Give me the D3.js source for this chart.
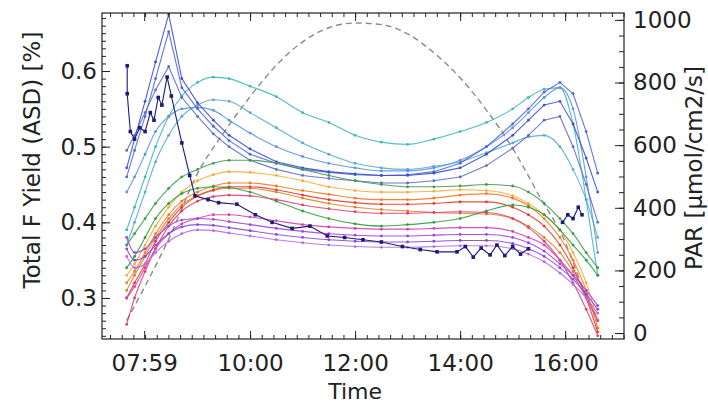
<!DOCTYPE html>
<html>
<head>
<meta charset="utf-8">
<script src="https://cdn.jsdelivr.net/npm/d3@7"></script>
<style>
  body { margin: 0; background: #fff; }
  text { font-family: "DejaVu Sans", sans-serif; }
</style>
</head>
<body>
<svg id="chart" width="708" height="404"></svg>
<script>
// Time of day (decimal hours) shared by most series
const hours = [7.65, 7.8, 8.0, 8.2, 8.45, 8.7, 9.0, 9.3, 9.6, 10.0, 10.5, 11.0, 11.5, 12.0, 12.5, 13.0, 13.5, 14.0, 14.5, 15.0, 15.3, 15.6, 15.9, 16.15, 16.4, 16.62];

// Upper group (blue / teal)
const blueA = [0.472, 0.51, 0.56, 0.612, 0.675, 0.59, 0.558, 0.535, 0.515, 0.497, 0.48, 0.472, 0.467, 0.464, 0.462, 0.462, 0.465, 0.472, 0.49, 0.515, 0.535, 0.555, 0.56, 0.53, 0.485, 0.44];
const blueB = [0.46, 0.495, 0.54, 0.59, 0.652, 0.578, 0.55, 0.527, 0.508, 0.49, 0.478, 0.47, 0.466, 0.463, 0.462, 0.463, 0.467, 0.478, 0.5, 0.53, 0.55, 0.572, 0.585, 0.57, 0.52, 0.465];
const blueC = [0.495, 0.515, 0.545, 0.575, 0.606, 0.565, 0.54, 0.517, 0.5, 0.482, 0.47, 0.462, 0.458, 0.455, 0.452, 0.452, 0.455, 0.46, 0.475, 0.498, 0.515, 0.535, 0.54, 0.5, 0.45, 0.4];
const lightBlue = [0.44, 0.46, 0.49, 0.52, 0.54, 0.55, 0.552, 0.548, 0.535, 0.518, 0.5, 0.487, 0.478, 0.472, 0.468, 0.468, 0.472, 0.482, 0.5, 0.525, 0.545, 0.565, 0.578, 0.55, 0.46, 0.36];
const teal1 = [0.39, 0.42, 0.46, 0.5, 0.54, 0.567, 0.585, 0.592, 0.59, 0.58, 0.566, 0.545, 0.532, 0.515, 0.506, 0.503, 0.51, 0.52, 0.532, 0.55, 0.565, 0.576, 0.578, 0.53, 0.43, 0.33];
const teal2 = [0.37, 0.4, 0.44, 0.48, 0.515, 0.54, 0.555, 0.562, 0.56, 0.545, 0.525, 0.505, 0.49, 0.478, 0.472, 0.47, 0.474, 0.48, 0.492, 0.505, 0.513, 0.515, 0.5, 0.47, 0.43, 0.38];

// Lower group (green / orange / red / purple)
const greenU = [0.37, 0.385, 0.405, 0.425, 0.445, 0.46, 0.47, 0.478, 0.482, 0.482, 0.478, 0.47, 0.462, 0.455, 0.45, 0.447, 0.447, 0.448, 0.45, 0.448, 0.44, 0.425, 0.405, 0.385, 0.36, 0.34];
const greenL = [0.34, 0.355, 0.38, 0.405, 0.425, 0.438, 0.445, 0.447, 0.446, 0.44, 0.428, 0.415, 0.405, 0.398, 0.395, 0.397, 0.4, 0.405, 0.415, 0.423, 0.42, 0.41, 0.39, 0.37, 0.35, 0.33];
const orange1 = [0.33, 0.345, 0.37, 0.395, 0.42, 0.44, 0.455, 0.463, 0.467, 0.466, 0.462, 0.455, 0.447, 0.442, 0.44, 0.44, 0.441, 0.443, 0.442, 0.435, 0.425, 0.41, 0.39, 0.36, 0.32, 0.27];
const orange2 = [0.32, 0.335, 0.36, 0.385, 0.41, 0.428, 0.44, 0.448, 0.452, 0.452, 0.448, 0.442, 0.437, 0.432, 0.43, 0.43, 0.432, 0.436, 0.438, 0.432, 0.422, 0.405, 0.38, 0.35, 0.31, 0.26];
const orange3 = [0.31, 0.33, 0.355, 0.38, 0.405, 0.423, 0.435, 0.442, 0.445, 0.445, 0.44, 0.432, 0.425, 0.42, 0.417, 0.415, 0.413, 0.412, 0.411, 0.405, 0.395, 0.38, 0.36, 0.335, 0.305, 0.27];
const red1 = [0.3, 0.32, 0.345, 0.375, 0.4, 0.42, 0.435, 0.443, 0.447, 0.447, 0.443, 0.436, 0.43, 0.426, 0.424, 0.424, 0.425, 0.427, 0.427, 0.42, 0.41, 0.395, 0.37, 0.34, 0.3, 0.255];
const pinkRed = [0.265, 0.3, 0.335, 0.365, 0.395, 0.415, 0.428, 0.434, 0.436, 0.435, 0.43, 0.423, 0.418, 0.414, 0.412, 0.412, 0.413, 0.414, 0.413, 0.405, 0.393, 0.375, 0.35, 0.32, 0.285, 0.25];
const magenta = [0.3, 0.315, 0.34, 0.365, 0.385, 0.398, 0.405, 0.41, 0.41, 0.407, 0.402, 0.397, 0.394, 0.392, 0.391, 0.391, 0.392, 0.393, 0.393, 0.388, 0.38, 0.37, 0.35, 0.33, 0.3, 0.27];
const purple1 = [0.38, 0.36, 0.365, 0.38, 0.395, 0.403, 0.405, 0.404, 0.401, 0.397, 0.392, 0.388, 0.385, 0.383, 0.382, 0.382, 0.383, 0.384, 0.384, 0.38, 0.373, 0.362, 0.345, 0.33, 0.31, 0.29];
const purple2 = [0.365, 0.35, 0.355, 0.37, 0.385, 0.394, 0.397, 0.396, 0.393, 0.389, 0.384, 0.38, 0.377, 0.375, 0.374, 0.374, 0.375, 0.376, 0.376, 0.372, 0.365, 0.355, 0.34, 0.325, 0.305, 0.285];
const purple3 = [0.355, 0.34, 0.345, 0.36, 0.375, 0.385, 0.39, 0.389, 0.386, 0.382, 0.377, 0.373, 0.37, 0.368, 0.367, 0.367, 0.368, 0.369, 0.369, 0.365, 0.358, 0.348, 0.333, 0.318, 0.3, 0.28];

// Navy series has its own time stamps (null = gap in record)
const navyHours = [7.66, 7.66, 7.72, 7.8, 7.9, 8.0, 8.1, 8.17, 8.25, 8.32, 8.42, 8.5, 8.7, 8.85, 8.95, 9.2, 9.4, 9.75, 10.1, 10.42, 10.8, 11.14, 11.47, 11.8, 12.15, 12.5, 12.9, 13.24, 13.56, 13.94, 14.1, 14.25, 14.4, 14.57, 14.7, 14.85, 15.0, 15.15, 15.3, 15.6, 15.95, 16.05, 16.15, 16.25, 16.32];
const navyYield = [0.607, 0.57, 0.52, 0.51, 0.525, 0.52, 0.545, 0.535, 0.565, 0.555, 0.592, 0.567, 0.505, 0.462, 0.435, 0.43, 0.426, 0.424, 0.41, 0.40, 0.392, 0.395, 0.382, 0.38, 0.377, 0.374, 0.368, 0.364, 0.361, 0.361, 0.368, 0.354, 0.366, 0.357, 0.37, 0.356, 0.368, 0.358, 0.365, null, 0.40, 0.41, 0.405, 0.42, 0.41];

// PAR (right axis)
const parHours = [7.65, 8.0, 8.45, 9.0, 9.5, 10.0, 10.5, 11.0, 11.5, 12.0, 12.5, 13.0, 13.5, 14.0, 14.5, 15.0, 15.5, 16.0, 16.3, 16.62];
const parValues = [40, 150, 300, 510, 640, 755, 855, 930, 975, 990, 985, 955, 895, 815, 712, 590, 440, 290, 160, 40];

// Axis ticks
const xTickHours = [7 + 59 / 60, 10, 12, 14, 16];
const xTickLabels = ["07:59", "10:00", "12:00", "14:00", "16:00"];
const yTicks = [0.3, 0.4, 0.5, 0.6];
const parTicks = [0, 200, 400, 600, 800, 1000];

const series = [
  { values: teal1, color: "#3fb6c2", sharp: false },
  { values: teal2, color: "#55a8d2", sharp: false },
  { values: lightBlue, color: "#5b93de", sharp: false },
  { values: blueC, color: "#5f6cc8", sharp: true },
  { values: blueB, color: "#5066dc", sharp: true },
  { values: blueA, color: "#3c4ed2", sharp: true },
  { values: greenU, color: "#3f9c4c", sharp: false },
  { values: orange1, color: "#f7a938", sharp: false },
  { values: orange2, color: "#f27a20", sharp: false },
  { values: orange3, color: "#d9832c", sharp: false },
  { values: red1, color: "#e8392b", sharp: false },
  { values: greenL, color: "#2ca03a", sharp: false },
  { values: pinkRed, color: "#e0406c", sharp: false },
  { values: magenta, color: "#d43fb4", sharp: false },
  { values: purple1, color: "#a140e0", sharp: false },
  { values: purple2, color: "#8748d8", sharp: false },
  { values: purple3, color: "#b86ae8", sharp: false }
];

const plotLeft = 102, plotRight = 624, plotTop = 13, plotBottom = 339;
const svg = d3.select("#chart");

const x = d3.scaleLinear().domain([7.18, 17.12]).range([plotLeft, plotRight]);
const y = d3.scaleLinear().domain([0.2458, 0.6767]).range([plotBottom, plotTop]);
const yPar = d3.scaleLinear().domain([-19, 1022]).range([plotBottom, plotTop]);

svg.append("clipPath").attr("id", "plot-clip")
  .append("rect").attr("x", plotLeft).attr("y", plotTop)
  .attr("width", plotRight - plotLeft).attr("height", plotBottom - plotTop);

const plot = svg.append("g").attr("clip-path", "url(#plot-clip)");

// PAR dashed curve
const parLine = d3.line()
  .x((d, i) => x(parHours[i]))
  .y(d => yPar(d))
  .curve(d3.curveMonotoneX);

plot.append("path")
  .attr("d", parLine(parValues))
  .attr("fill", "none")
  .attr("stroke", "#8e8a88")
  .attr("stroke-width", 1.4)
  .attr("stroke-dasharray", "6,4");

// Yield series
series.forEach(s => {
  const line = d3.line()
    .x((d, i) => x(hours[i]))
    .y(d => y(d))
    .curve(s.sharp ? d3.curveLinear : d3.curveMonotoneX);

  plot.append("path")
    .attr("d", line(s.values))
    .attr("fill", "none")
    .attr("stroke", s.color)
    .attr("stroke-width", 1.1)
    .attr("stroke-opacity", 0.9);

  plot.selectAll(null)
    .data(s.values)
    .enter()
    .append("circle")
    .attr("cx", (d, i) => x(hours[i]))
    .attr("cy", d => y(d))
    .attr("r", 1.4)
    .attr("fill", s.color);
});

// Navy series with square markers
const navyData = navyHours.map((h, i) => ({ h: h, v: navyYield[i] }));
const navyLine = d3.line()
  .defined(d => d.v !== null)
  .x(d => x(d.h))
  .y(d => y(d.v));

plot.append("path")
  .attr("d", navyLine(navyData))
  .attr("fill", "none")
  .attr("stroke", "#1c1c78")
  .attr("stroke-width", 1.1);

plot.selectAll("rect.navy")
  .data(navyData.filter(d => d.v !== null))
  .enter()
  .append("rect")
  .attr("class", "navy")
  .attr("x", d => x(d.h) - 1.8)
  .attr("y", d => y(d.v) - 1.8)
  .attr("width", 3.6)
  .attr("height", 3.6)
  .attr("fill", "#1c1c78");

// Axes
const fontSize = "23px";

function styleAxis(g) {
  g.select(".domain").remove();
  g.selectAll(".tick line").attr("stroke", "#222");
  g.selectAll(".tick text").attr("fill", "#222").style("font-size", fontSize);
}

svg.append("g")
  .attr("transform", "translate(" + plotLeft + ",0)")
  .call(d3.axisLeft(y).tickValues(d3.range(25, 68).map(d => d / 100)).tickSize(-4).tickFormat(""))
  .call(styleAxis);

svg.append("g")
  .attr("transform", "translate(" + plotLeft + ",0)")
  .call(d3.axisLeft(y).tickValues(yTicks).tickSize(-8).tickPadding(5).tickFormat(d3.format(".1f")))
  .call(styleAxis);

svg.append("g")
  .attr("transform", "translate(" + plotRight + ",0)")
  .call(d3.axisRight(yPar).tickValues(d3.range(0, 1001, 50)).tickSize(-5).tickFormat(""))
  .call(styleAxis);

svg.append("g")
  .attr("transform", "translate(" + plotRight + ",0)")
  .call(d3.axisRight(yPar).tickValues(parTicks).tickSize(-9).tickPadding(9).tickFormat(d3.format("d")))
  .call(styleAxis);

const minorHours = d3.range(-3, 43).map(k => xTickHours[1] + k * 2 / 9 - 2)
  .filter(h => x(h) > plotLeft && x(h) < plotRight);

svg.append("g")
  .attr("transform", "translate(0," + plotBottom + ")")
  .call(d3.axisBottom(x).tickValues(minorHours).tickSize(-4).tickFormat(""))
  .call(styleAxis);

svg.append("g")
  .attr("transform", "translate(0," + plotTop + ")")
  .call(d3.axisTop(x).tickValues(minorHours).tickSize(-4).tickFormat(""))
  .call(styleAxis);

svg.append("g")
  .attr("transform", "translate(0," + plotBottom + ")")
  .call(d3.axisBottom(x).tickValues(xTickHours).tickSize(-8).tickPadding(16).tickFormat((d, i) => xTickLabels[i]))
  .call(styleAxis);

svg.append("g")
  .attr("transform", "translate(0," + plotTop + ")")
  .call(d3.axisTop(x).tickValues(xTickHours).tickSize(-8).tickFormat(""))
  .call(styleAxis);

// Frame
svg.append("rect")
  .attr("x", plotLeft).attr("y", plotTop)
  .attr("width", plotRight - plotLeft).attr("height", plotBottom - plotTop)
  .attr("fill", "none").attr("stroke", "#222").attr("stroke-width", 1.2);

// Axis titles
svg.append("text")
  .attr("transform", "translate(40,160) rotate(-90)")
  .attr("text-anchor", "middle")
  .attr("fill", "#222")
  .style("font-size", fontSize)
  .text("Total F Yield (ASD) [%]");

svg.append("text")
  .attr("transform", "translate(702,168) rotate(-90)")
  .attr("text-anchor", "middle")
  .attr("fill", "#222")
  .style("font-size", fontSize)
  .text("PAR [μmol/cm2/s]");

svg.append("text")
  .attr("x", x(12))
  .attr("y", 398.5)
  .attr("text-anchor", "middle")
  .attr("fill", "#222")
  .style("font-size", "22px")
  .text("Time");
</script>
</body>
</html>
